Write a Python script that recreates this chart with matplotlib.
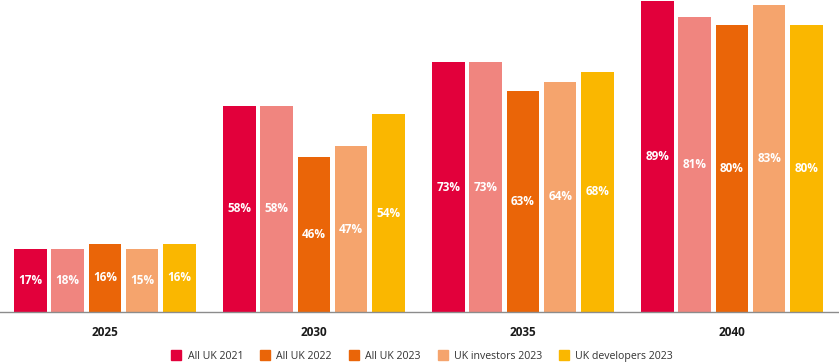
#!/usr/bin/env python3
"""
Grouped bar chart: share of respondents expecting targets by year
"""

import matplotlib.pyplot as plt
from matplotlib.lines import Line2D
import numpy as np

# Data
years = ['2025', '2030', '2035', '2040']
series = ['All UK 2021', 'All UK 2022', 'All UK 2023', 'UK investors 2023', 'UK developers 2023']

# bar heights as drawn in the picture (%)
heights = [
    [18.0, 59.0, 71.5, 89.0],   # All UK 2021
    [18.0, 59.0, 71.5, 84.3],   # All UK 2022
    [19.5, 44.4, 63.3, 82.2],   # All UK 2023
    [18.0, 47.4, 65.9, 87.8],   # UK investors 2023
    [19.5, 56.6, 68.7, 82.2],   # UK developers 2023
]
# printed value labels
labels = [
    [17, 58, 73, 89],
    [18, 58, 73, 81],
    [16, 46, 63, 80],
    [15, 47, 64, 83],
    [16, 54, 68, 80],
]

bar_colors = ['#E2003B', '#F0857F', '#EA6508', '#F5A46D', '#FAB700']
legend_colors = ['#E2003B', '#EA6508', '#EA6508', '#F5A46D', '#FAB700']

plt.rcParams['font.family'] = ['Open Sans', 'DejaVu Sans']

fig = plt.figure(figsize=(8.39, 3.64), dpi=100)
ax = fig.add_axes([0, 52 / 364, 1, 312 / 364])

x = np.arange(len(years))
step = 0.1785
width = 0.155

for i, (name, color) in enumerate(zip(series, bar_colors)):
    pos = x + (i - 2) * step
    bars = ax.bar(pos, heights[i], width, color=color, label=name)
    for bar, lab in zip(bars, labels[i]):
        h = bar.get_height()
        ax.text(bar.get_x() + bar.get_width() / 2, h / 2, f'{lab}%',
                ha='center', va='center', color='white',
                fontsize=8.5, fontweight='bold')

ax.set_xlim(-0.502, 3.512)
ax.set_ylim(0, 89.3)
ax.set_xticks(x)
ax.set_xticklabels(years, fontsize=8.5, fontweight='bold', color='#1a1a1a')
ax.tick_params(axis='x', length=0, pad=10)
ax.set_yticks([])
for side in ['top', 'right', 'left']:
    ax.spines[side].set_visible(False)
ax.spines['bottom'].set_color('#8c8c8c')
ax.spines['bottom'].set_linewidth(1)

handles = [Line2D([], [], marker='s', linestyle='none', markersize=6.5,
                  markerfacecolor=c, markeredgecolor=c) for c in legend_colors]
fig.legend(handles, series, loc='lower center', ncol=5, frameon=False,
           fontsize=7.6, handletextpad=0.05, columnspacing=1.1,
           bbox_to_anchor=(0.5, -0.02), labelcolor='#333333')

plt.savefig('out.png', dpi=100)
